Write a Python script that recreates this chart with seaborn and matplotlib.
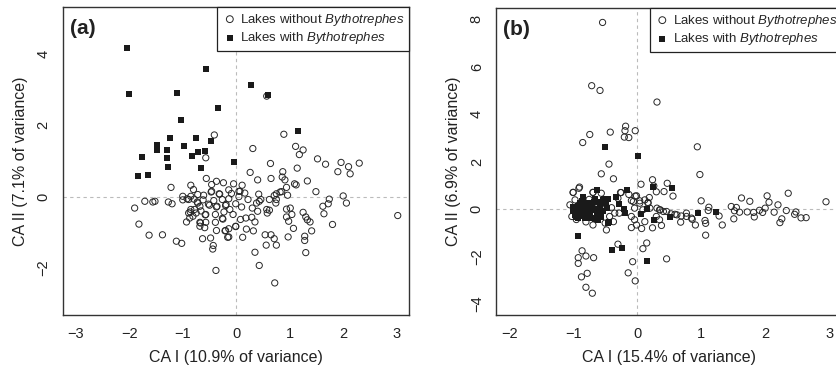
import numpy as np
import matplotlib
matplotlib.use("Agg")
import matplotlib.pyplot as plt
import seaborn as sns

# DATA (CA site scores)
# panel (a): lakes without / with Bythotrephes
a_without = [
    (0.57, 2.82), (0.89, 1.75), (-0.41, 1.73), (0.31, 1.35), (1.11, 1.41), (1.25, 1.31),
    (1.18, 1.18), (-0.57, 1.09), (1.52, 1.06), (1.67, 0.91), (1.96, 0.96), (2.10, 0.84),
    (2.30, 0.94), (1.90, 0.70), (2.13, 0.64), (0.64, 0.93), (1.14, 0.80), (0.26, 0.68),
    (0.87, 0.70), (0.91, 0.47), (0.65, 0.51), (0.40, 0.47), (1.33, 0.44), (-0.56, 0.51),
    (-0.37, 0.43), (-0.46, 0.34), (-0.24, 0.39), (-0.05, 0.36), (0.11, 0.32), (-0.85, 0.32),
    (-0.80, 0.20), (-1.22, 0.26), (-0.14, 0.19), (0.05, 0.15), (-0.47, 0.13), (-0.32, 0.08),
    (-0.09, 0.09), (0.16, 0.10), (1.09, 0.36), (1.12, 0.33), (0.94, 0.26), (1.49, 0.14),
    (0.82, 0.13), (0.96, 0.04), (0.42, 0.07), (0.71, 0.03), (2.00, 0.02), (-1.00, 0.01),
    (-0.79, -0.07), (-1.00, -0.09), (-0.89, -0.08), (-0.62, -0.09), (-0.42, -0.11),
    (-0.26, -0.08), (-0.14, -0.06), (0.05, 0.00), (0.22, -0.08), (0.43, -0.13), (0.62, -0.08),
    (0.74, -0.18), (1.74, -0.07), (1.72, -0.20), (2.06, -0.18), (-1.71, -0.13), (-1.56, -0.15),
    (-1.52, -0.13), (-1.27, -0.15), (-1.20, -0.20), (-1.90, -0.32), (1.62, -0.27), (-0.72, -0.18),
    (-0.68, -0.27), (-0.52, -0.21), (-0.37, -0.29), (-0.20, -0.25), (-0.01, -0.20), (0.10, -0.29),
    (0.30, -0.32), (0.38, -0.18), (0.40, -0.41), (0.57, -0.36), (0.94, -0.35), (1.01, -0.32),
    (1.25, -0.44), (1.30, -0.57), (1.38, -0.71), (1.64, -0.48), (-0.85, -0.36), (-0.89, -0.46),
    (-0.75, -0.46), (-0.66, -0.40), (-0.58, -0.51), (-0.87, -0.60), (-0.93, -0.71), (-0.68, -0.72),
    (-0.57, -0.72), (-0.39, -0.72), (-0.26, -0.61), (-0.06, -0.50), (0.08, -0.64), (0.18, -0.60),
    (0.35, -0.71), (0.58, -0.46), (0.94, -0.57), (0.98, -0.69), (1.04, -0.50), (1.33, -0.65),
    (-1.82, -0.77), (-0.68, -0.83), (-0.59, -0.87), (-0.14, -0.90), (-0.21, -0.96), (-0.37, -0.95),
    (-0.01, -0.84), (0.19, -0.91), (0.32, -0.96), (1.07, -0.89), (1.41, -0.96), (1.80, -0.78),
    (-1.63, -1.08), (-1.38, -1.07), (-0.63, -1.18), (-0.48, -1.16), (-0.14, -1.13), (0.12, -1.14),
    (0.54, -1.07), (0.65, -1.07), (0.71, -1.18), (0.97, -1.13), (1.28, -1.11), (-1.12, -1.25),
    (-1.02, -1.31), (-0.43, -1.37), (-0.44, -1.47), (0.56, -1.36), (0.75, -1.36), (1.28, -1.23),
    (0.35, -1.56), (1.30, -1.57), (0.43, -1.93), (-0.38, -2.07), (0.72, -2.42), (3.02, -0.53),
    (-0.92, -0.06), (-0.85, 0.01), (-0.72, 0.06), (-0.61, 0.04), (-0.46, 0.15), (-0.31, 0.07),
    (-0.73, -0.15), (-0.50, -0.24), (-0.36, -0.27), (-0.19, -0.22), (-0.86, -0.43), (-0.78, -0.36),
    (-0.57, -0.50), (-0.39, -0.50), (-0.23, -0.43), (-0.12, -0.36), (-0.81, -0.55), (-0.67, -0.74),
    (-0.25, -0.63), (-0.01, -0.83), (-0.20, -0.95), (-0.16, -1.14), (0.29, -0.58), (0.62, -0.38),
    (0.86, 0.55), (0.85, 0.14), (0.75, 0.08), (0.46, -0.08), (0.75, -0.08), (0.07, 0.15),
]
a_with = [
    (-2.04, 4.17), (-2.00, 2.88), (-0.57, 3.59), (0.28, 3.13), (0.60, 2.85), (-1.10, 2.91),
    (-0.34, 2.49), (-1.03, 2.15), (1.16, 1.84), (-1.24, 1.65), (-0.75, 1.64), (-1.48, 1.45),
    (-1.48, 1.32), (-0.98, 1.42), (-0.47, 1.56), (-1.29, 1.31), (-0.58, 1.28), (-0.71, 1.25),
    (-1.77, 1.11), (-1.29, 1.08), (-0.82, 1.14), (-1.27, 0.83), (-0.66, 0.80), (-0.04, 0.97),
    (-1.83, 0.58), (-1.65, 0.61),
]

# panel (b)
b_without = [
    (-0.54, 7.87), (-0.71, 5.20), (-0.58, 5.00), (0.31, 4.51), (-0.18, 3.49), (-0.19, 3.30),
    (-0.03, 3.30), (-0.42, 3.24), (-0.74, 3.14), (-0.20, 3.03), (-0.13, 3.01), (-0.85, 2.80),
    (0.94, 2.62), (-0.44, 1.89), (0.98, 1.45), (-0.56, 1.48), (-0.37, 1.27), (0.24, 1.23),
    (0.47, 1.08), (0.06, 1.04), (0.26, 0.97), (-0.90, 0.92), (-0.69, 0.70), (-1.00, 0.70),
    (-0.26, 0.69), (0.30, 0.72), (0.42, 0.73), (2.36, 0.66), (2.03, 0.55), (1.63, 0.46),
    (0.56, 0.54), (0.19, 0.48), (-0.03, 0.54), (-0.13, 0.61), (1.76, 0.32), (2.95, 0.30),
    (2.06, 0.28), (1.00, 0.34), (0.17, 0.27), (0.04, 0.34), (-0.09, 0.35), (2.20, 0.17),
    (1.47, 0.10), (1.55, 0.06), (1.12, 0.07), (0.31, 0.03), (0.36, -0.04), (2.00, 0.03),
    (1.91, -0.06), (2.33, -0.07), (1.72, -0.13), (1.82, -0.15), (1.96, -0.15), (2.14, -0.14),
    (2.48, -0.13), (1.60, -0.14), (1.52, -0.08), (1.11, -0.07), (0.41, -0.11), (0.62, -0.25),
    (0.77, -0.32), (0.53, -0.21), (2.46, -0.23), (2.56, -0.38), (2.64, -0.37), (1.83, -0.34),
    (2.26, -0.42), (2.23, -0.58), (1.51, -0.42), (1.28, -0.30), (1.06, -0.49), (1.07, -0.61),
    (0.68, -0.56), (0.86, -0.44), (0.91, -0.68), (1.33, -0.68), (0.35, -0.46), (0.38, -0.70),
    (0.24, -0.80), (0.07, -0.83), (-0.09, -0.79), (1.07, -1.11), (0.15, -1.44), (0.09, -1.68),
    (-0.30, -1.49), (0.46, -2.11), (-0.07, -2.23), (-0.14, -2.70), (-0.03, -3.04), (-0.86, -1.77),
    (-0.92, -2.06), (-0.80, -1.99), (-0.68, -2.06), (-0.92, -2.30), (-0.78, -2.72), (-0.87, -2.87),
    (-0.80, -3.31), (-0.70, -3.56),
    (-0.91, 0.87), (-1.00, 0.69), (-0.69, 0.69), (-0.56, 0.66), (-0.25, 0.69), (-0.01, 0.55),
    (-0.06, 0.31), (0.04, 0.24), (0.12, 0.38), (0.17, 0.24), (-0.04, 0.03), (0.09, -0.04),
    (0.20, 0.03), (-0.09, -0.32), (-0.04, -0.46), (0.12, -0.54), (-0.01, -0.68), (-0.37, -0.54),
    (-0.48, -0.89), (-0.69, -0.68), (-1.02, -0.32), (-1.05, 0.17), (-0.97, 0.38), (-0.35, -0.18),
    (-0.43, -0.32), (0.30, -0.32), (0.35, -0.04), (0.46, -0.11), (0.59, -0.23), (0.69, -0.30),
    (0.77, -0.18), (0.85, -0.39), (-0.28, -0.18), (-0.69, 0.10), (-0.95, -0.45), (-0.80, -0.55),
    (-0.60, -0.30), (-0.75, 0.40), (-0.55, 0.20), (-0.40, 0.05), (-0.50, -0.60), (-0.30, 0.45),
]
b_with = [
    (-0.50, 2.62), (0.02, 2.23), (0.25, 0.94), (0.55, 0.87), (-0.93, -1.15), (-0.39, -1.73),
    (-0.23, -1.66), (0.16, -2.21), (1.23, -0.14), (0.95, -0.18), (0.51, -0.35), (0.27, -0.48),
    (0.06, -0.23), (0.15, -0.01), (-0.16, 0.80), (-0.33, 0.52), (-0.20, 0.00), (-0.19, -0.18),
    (-0.84, 0.52), (-0.63, 0.80), (-0.45, 0.41), (-0.53, 0.38), (-0.48, 0.24), (-0.28, 0.20),
    (-0.66, 0.41), (-0.45, -0.61), (-0.61, -0.46),
    (-1.00, 0.10), (-0.95, -0.04), (-0.89, -0.18), (-0.97, -0.25), (-0.84, 0.10), (-0.79, -0.11),
    (-0.74, -0.32), (-0.69, -0.04), (-0.63, -0.25), (-0.58, 0.10), (-0.89, 0.24), (-0.76, 0.24),
    (-0.82, -0.39), (-0.71, 0.17), (-0.53, -0.11), (-0.92, -0.39), (-1.00, -0.11), (-0.87, -0.01),
    (-0.66, -0.44), (-0.59, 0.31),
    (-0.98, 0.00), (-0.93, 0.12), (-0.90, -0.30), (-0.85, -0.25), (-0.80, 0.05), (-0.77, -0.20),
    (-0.72, -0.40), (-0.68, 0.28), (-0.65, 0.00), (-0.62, -0.15), (-0.55, 0.30), (-0.52, 0.42),
    (-0.47, 0.05), (-0.44, -0.55), (-0.56, -0.35), (-0.96, -0.35), (-0.86, 0.35), (-0.74, 0.05),
]

LABEL_WITHOUT = r"Lakes without $\it{Bythotrephes}$"
LABEL_WITH = r"Lakes with $\it{Bythotrephes}$"


def draw_panel(ax, without, with_, tag, xlim, ylim, xticks, yticks, xlabel, ylabel):
    wo = np.array(without)
    wi = np.array(with_)
    ax.axhline(0, color="#bbbbbb", lw=0.8, ls=(0, (3, 3)), zorder=0)
    ax.axvline(0, color="#bbbbbb", lw=0.8, ls=(0, (3, 3)), zorder=0)
    sns.scatterplot(x=wo[:, 0], y=wo[:, 1], ax=ax, marker="o", s=20,
                    facecolor="none", edgecolor="#262626", linewidth=0.7,
                    label=LABEL_WITHOUT, zorder=2)
    sns.scatterplot(x=wi[:, 0], y=wi[:, 1], ax=ax, marker="s", s=18,
                    color="#1a1a1a", edgecolor="#1a1a1a", linewidth=0,
                    label=LABEL_WITH, zorder=3)
    ax.set_xlim(*xlim)
    ax.set_ylim(*ylim)
    ax.set_xticks(xticks)
    ax.set_yticks(yticks)
    ax.set_xticklabels([str(t).replace("-", "\u2212") for t in xticks])
    ax.set_yticklabels([str(t).replace("-", "\u2212") for t in yticks],
                       rotation=90, va="center")
    ax.set_xlabel(xlabel, fontsize=11.5, labelpad=6, color="#222222")
    ax.set_ylabel(ylabel, fontsize=11.5, labelpad=6, color="#222222")
    ax.tick_params(direction="out", length=5, width=0.8, color="#333333",
                   labelsize=10.5, pad=4, labelcolor="#222222")
    for sp in ax.spines.values():
        sp.set_visible(True)
        sp.set_color("#333333")
        sp.set_linewidth(1.0)
    ax.text(0.02, 0.96, tag, transform=ax.transAxes, fontsize=15,
            fontweight="bold", ha="left", va="top", color="#222222")
    leg = ax.legend(loc="upper right", borderaxespad=0, fancybox=False,
                    frameon=True, fontsize=9.5, handletextpad=0.2,
                    labelspacing=0.2, borderpad=0.35, handlelength=1.2,
                    markerscale=1.1)
    leg.get_frame().set_edgecolor("#222222")
    leg.get_frame().set_linewidth(0.9)
    leg.get_frame().set_alpha(1)


sns.set_style("white")
plt.rcParams["font.family"] = ["Liberation Sans", "DejaVu Sans"]
plt.rcParams["mathtext.fontset"] = "custom"
plt.rcParams["mathtext.rm"] = "Liberation Sans"
plt.rcParams["mathtext.it"] = "Liberation Sans:italic"
plt.rcParams["axes.unicode_minus"] = True

fig = plt.figure(figsize=(8.37, 3.74), dpi=100)
ax_a = fig.add_axes([63 / 837, 1 - 315 / 374, 346.5 / 837, 308 / 374])
ax_b = fig.add_axes([496.3 / 837, 1 - 315 / 374, 345.7 / 837, 307 / 374])

draw_panel(ax_a, a_without, a_with, "(a)", (-3.24, 3.24), (-3.32, 5.32),
           [-3, -2, -1, 0, 1, 2, 3], [-2, 0, 2, 4],
           "CA I (10.9% of variance)", "CA II (7.1% of variance)")
draw_panel(ax_b, b_without, b_with, "(b)", (-2.2, 3.2), (-4.48, 8.48),
           [-2, -1, 0, 1, 2, 3], [-4, -2, 0, 2, 4, 6, 8],
           "CA I (15.4% of variance)", "CA II (6.9% of variance)")

fig.savefig("out.png", dpi=100)
